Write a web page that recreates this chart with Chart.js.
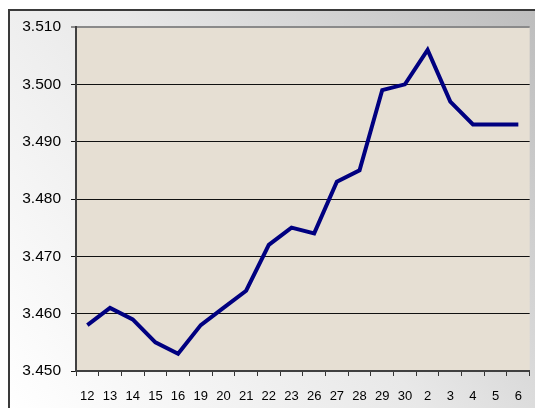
<!DOCTYPE html>
<html>
<head>
<meta charset="utf-8">
<script src="https://cdn.jsdelivr.net/npm/chart.js"></script>
<style>
  html, body { margin: 0; padding: 0; background: #fff; }
  #grafico { display: block; }
</style>
</head>
<body>
<canvas id="grafico" width="535" height="408"></canvas>
<script>
// dias (eixo x) e valores (eixo y)
const dias = ['12', '13', '14', '15', '16', '19', '20', '21', '22', '23',
  '26', '27', '28', '29', '30', '2', '3', '4', '5', '6'];
const valores = [3.458, 3.461, 3.459, 3.455, 3.453, 3.458, 3.461, 3.464, 3.472, 3.475,
  3.474, 3.483, 3.485, 3.499, 3.500, 3.506, 3.497, 3.493, 3.493, 3.493];
const yMin = 3.450;
const yMax = 3.510;
const yPasso = 0.010;

// fundo da moldura e da area do grafico
const fundoPlugin = {
  id: 'fundo',
  beforeDraw(chart) {
    const ctx = chart.ctx;
    const a = chart.chartArea;
    ctx.save();
    // moldura com degrade (claro embaixo a esquerda, cinza em cima a direita)
    let g = ctx.createLinearGradient(8, 408, 535, 9);
    g.addColorStop(0, '#ffffff');
    g.addColorStop(0.5, '#e8e8e8');
    g.addColorStop(1, '#bdbdbd');
    ctx.fillStyle = g;
    ctx.fillRect(9, 10, 530, 400);
    ctx.strokeStyle = '#3a3a3a';
    ctx.lineWidth = 2;
    ctx.strokeRect(9, 10, 540, 410);
    // area do grafico (bege)
    ctx.fillStyle = '#e6dfd3';
    ctx.fillRect(a.left, a.top, a.right - a.left, a.bottom - a.top);
    ctx.restore();
  }
};

function createLineGrafico(IdElement) {
  let ctx = document.getElementById(IdElement).getContext('2d');
  window.myLine = new Chart(ctx, {
    type: 'line',
    data: {
      labels: dias,
      datasets: [{
        data: valores,
        borderColor: '#000080',
        borderWidth: 4,
        pointRadius: 0,
        tension: 0,
        fill: false
      }]
    },
    options: {
      responsive: false,
      animation: false,
      layout: { padding: { left: 8, top: 27, right: 2, bottom: 0 } },
      plugins: { legend: { display: false }, tooltip: { enabled: false } },
      scales: {
        x: {
          offset: true,
          grid: {
            offset: true,
            drawOnChartArea: false,
            drawTicks: true,
            tickLength: 5,
            color: '#333'
          },
          border: { color: '#404040', width: 2 },
          ticks: {
            color: '#000',
            padding: 13,
            autoSkip: false,
            maxRotation: 0,
            font: { family: 'Liberation Sans, Arial', size: 13 }
          },
          afterFit(scale) { scale.height = 37; }
        },
        y: {
          min: yMin,
          max: yMax,
          grid: {
            color: (c) => (c.tick && Math.abs(c.tick.value - yMax) < 1e-9) ? '#8a8a8a' : '#111',
            lineWidth: (c) => (c.tick && Math.abs(c.tick.value - yMax) < 1e-9) ? 2 : 1,
            tickLength: 5,
            drawTicks: true
          },
          border: { color: '#404040', width: 2 },
          ticks: {
            stepSize: yPasso,
            color: '#000',
            padding: 10,
            font: { family: 'Liberation Sans, Arial', size: 15.5 },
            callback: (v) => v.toFixed(3)
          },
          afterFit(scale) { scale.width = 68; }
        }
      }
    },
    plugins: [fundoPlugin]
  });
}

window.onload = function () {
  createLineGrafico('grafico');
};
</script>
</body>
</html>
